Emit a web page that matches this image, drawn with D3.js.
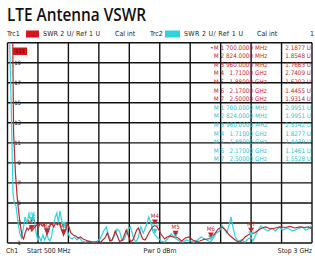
<!DOCTYPE html>
<html>
<head>
<meta charset="utf-8">
<script src="https://cdn.jsdelivr.net/npm/d3@7"></script>
<style>
  body { margin: 0; background: #fff; }
  text { font-family: "DejaVu Sans Condensed", "Liberation Sans", sans-serif; }
</style>
</head>
<body>
<div id="chart"></div>
<script>
// trace 1 (red) - frequency MHz / VSWR
const redFreq = [500, 540, 550, 565, 580, 595, 610, 622, 632, 645, 660, 672, 685, 700, 712, 725, 740, 755, 770, 785, 800, 812, 824, 838, 850, 865, 880, 895, 910, 925, 940, 960, 975, 990, 1005, 1020, 1040, 1060, 1080, 1100, 1120, 1140, 1170, 1200, 1240, 1270, 1300, 1320, 1340, 1360, 1385, 1420, 1445, 1475, 1510, 1530, 1560, 1575, 1610, 1630, 1660, 1690, 1710, 1730, 1760, 1790, 1810, 1835, 1860, 1880, 1900, 1930, 1960, 1990, 2020, 2050, 2080, 2110, 2140, 2170, 2200, 2230, 2260, 2290, 2320, 2350, 2380, 2400, 2420, 2450, 2475, 2500, 2530, 2560, 2590, 2620, 2660, 2700, 2740, 2780, 2820, 2860, 2900, 2940, 2970, 3000];
const redSwr = [40, 25, 12, 8, 5.5, 3.8, 2.4, 1.6, 1.4, 2.0, 2.5, 2.3, 2.6, 2.19, 2.4, 2.6, 2.8, 2.6, 3.0, 2.7, 2.9, 2.3, 1.85, 2.2, 2.8, 2.9, 2.6, 3.0, 2.8, 3.0, 2.5, 1.77, 2.2, 2.9, 2.6, 2.0, 1.8, 1.7, 1.5, 1.6, 1.4, 1.3, 1.15, 1.1, 1.1, 1.15, 1.5, 2.0, 1.2, 1.3, 2.2, 1.15, 1.3, 2.3, 1.15, 1.3, 2.3, 2.5, 1.4, 1.3, 2.0, 2.6, 2.74, 2.6, 1.9, 1.4, 1.6, 1.7, 1.6, 1.62, 1.5, 1.2, 1.5, 1.6, 1.3, 1.15, 1.2, 1.35, 1.4, 1.45, 1.9, 2.4, 2.6, 2.3, 1.8, 1.5, 1.2, 1.1, 1.2, 1.6, 1.8, 1.93, 2.0, 2.3, 2.5, 2.6, 2.4, 2.5, 2.6, 2.55, 2.65, 2.5, 2.6, 2.55, 2.6, 2.4];

// trace 2 (cyan)
const cyanFreq = [500, 530, 545, 555, 570, 585, 600, 615, 630, 645, 660, 675, 690, 700, 710, 722, 735, 748, 762, 775, 790, 805, 815, 824, 835, 848, 860, 875, 890, 905, 918, 930, 945, 960, 975, 990, 1010, 1030, 1050, 1070, 1090, 1110, 1140, 1170, 1200, 1230, 1260, 1290, 1310, 1330, 1350, 1370, 1400, 1420, 1440, 1460, 1490, 1510, 1535, 1555, 1575, 1595, 1615, 1640, 1660, 1680, 1695, 1710, 1735, 1760, 1790, 1820, 1845, 1865, 1880, 1910, 1940, 1970, 2000, 2030, 2060, 2090, 2120, 2150, 2170, 2190, 2215, 2240, 2260, 2280, 2300, 2320, 2335, 2350, 2370, 2395, 2420, 2450, 2475, 2500, 2515, 2530, 2555, 2580, 2610, 2640, 2670, 2700, 2730, 2760, 2800, 2840, 2880, 2920, 2950, 2980, 3000];
const cyanSwr = [30, 15, 6, 5, 4.7, 3.2, 2.0, 1.5, 2.5, 3.6, 3.0, 3.8, 3.4, 2.99, 4.0, 3.2, 2.0, 1.3, 1.6, 1.2, 1.8, 1.3, 1.6, 1.99, 1.4, 1.2, 1.6, 2.6, 3.5, 4.0, 3.0, 4.2, 3.2, 2.51, 2.9, 2.2, 1.6, 1.4, 1.6, 1.3, 1.5, 1.2, 1.1, 1.2, 1.1, 1.15, 1.4, 2.2, 2.6, 1.8, 1.2, 1.5, 2.4, 2.2, 1.2, 1.4, 2.4, 2.6, 1.5, 1.1, 1.6, 2.6, 2.0, 2.8, 3.6, 2.9, 2.1, 1.83, 1.5, 1.2, 1.1, 1.5, 1.9, 1.6, 1.44, 1.2, 1.1, 1.3, 1.2, 1.1, 1.3, 1.6, 1.4, 1.2, 1.15, 1.5, 2.0, 2.2, 2.8, 2.4, 2.0, 2.8, 3.6, 2.6, 1.6, 1.2, 1.3, 1.1, 1.4, 1.55, 1.2, 1.6, 2.2, 2.7, 2.4, 2.2, 2.5, 2.2, 2.6, 2.3, 2.5, 2.2, 2.4, 2.6, 2.3, 2.5, 2.8];

// markers
const markerNames = ["M1", "M2", "M3", "M4", "M5", "M6", "M7"];
const markerFreq = [700, 824, 960, 1710, 1880, 2170, 2500];
const redMarkerSwr = [2.1877, 1.8548, 1.7663, 2.7409, 1.6202, 1.4455, 1.9314];
const cyanMarkerSwr = [2.9951, 1.9951, 2.5142, 1.8277, 1.4439, 1.1461, 1.5528];

const yTicks = [1, 3, 5, 7, 9, 11, 13, 15, 17, 19];

const width = 315, height = 259;
const plot = { left: 7.5, top: 42.7, right: 312, bottom: 243 };
const red = "#c0262c", redFill = "#d9141c", cyan = "#2fd3dc";

const svg = d3.select("#chart").append("svg")
    .attr("width", width)
    .attr("height", height);

const xScale = d3.scaleLinear().domain([500, 3000]).range([plot.left, plot.right]);
const yScale = d3.scaleLinear().domain([1, 21]).range([plot.bottom, plot.top]);

// title
svg.append("text")
    .attr("x", 7).attr("y", 21)
    .attr("textLength", 139).attr("lengthAdjust", "spacingAndGlyphs")
    .style("font-family", "'Open Sans', sans-serif")
    .style("font-weight", 600)
    .style("font-size", "18px")
    .attr("fill", "#111")
    .text("LTE Antenna VSWR");

// header line
const hdr = svg.append("g").style("font-size", "7px").attr("fill", "#222");
hdr.append("text").attr("x", 7).attr("y", 36).text("Trc1");
hdr.append("rect").attr("x", 26).attr("y", 30.5).attr("width", 13).attr("height", 7).attr("fill", redFill);
hdr.append("text").attr("x", 43).attr("y", 36).attr("textLength", 57).text("SWR  2 U/  Ref 1 U");
hdr.append("text").attr("x", 115).attr("y", 36).text("Cal int");
hdr.append("text").attr("x", 150).attr("y", 36).text("Trc2");
hdr.append("rect").attr("x", 165).attr("y", 30.5).attr("width", 15).attr("height", 7).attr("fill", cyan);
hdr.append("text").attr("x", 184).attr("y", 36).attr("textLength", 59).text("SWR  2 U/  Ref 1 U");
hdr.append("text").attr("x", 257).attr("y", 36).text("Cal int");
hdr.append("text").attr("x", 310).attr("y", 36).text("1");

// grid
const grid = svg.append("g").attr("stroke", "#111").attr("stroke-width", 1.4);
d3.range(500, 3001, 250).forEach(f => {
    grid.append("line")
        .attr("x1", xScale(f)).attr("x2", xScale(f))
        .attr("y1", plot.top).attr("y2", plot.bottom);
});
d3.range(1, 22, 2).forEach(v => {
    grid.append("line")
        .attr("x1", plot.left).attr("x2", plot.right)
        .attr("y1", yScale(v)).attr("y2", yScale(v));
});

// y labels
svg.append("g").style("font-size", "6px").attr("fill", "#222")
    .selectAll("text").data(yTicks).enter().append("text")
    .attr("x", 21).attr("y", d => yScale(d))
    .attr("dy", "0.35em")
    .attr("text-anchor", "end")
    .text(d => d);

// trace label box
svg.append("rect").attr("x", 13).attr("y", 47.5).attr("width", 14).attr("height", 7.5).attr("fill", redFill);
svg.append("text").attr("x", 20).attr("y", 53.3).attr("text-anchor", "middle")
    .style("font-size", "5.5px").attr("fill", "#5a0000").text("S11");

// traces
svg.append("clipPath").attr("id", "clip").append("rect")
    .attr("x", plot.left).attr("y", plot.top)
    .attr("width", plot.right - plot.left).attr("height", plot.bottom - plot.top);

const line = d3.line()
    .x(d => xScale(d[0]))
    .y(d => yScale(d[1]));

const traces = svg.append("g").attr("clip-path", "url(#clip)");
traces.append("path")
    .datum(d3.zip(cyanFreq, cyanSwr))
    .attr("d", line).attr("fill", "none")
    .attr("stroke", cyan).attr("stroke-width", 1.2);
traces.append("path")
    .datum(d3.zip(redFreq, redSwr))
    .attr("d", line).attr("fill", "none")
    .attr("stroke", red).attr("stroke-width", 1.2);

// marker symbols on the traces; a cyan label that would sit under the red one is left out
function drawMarkers(vals, col, other) {
    const g = svg.append("g");
    markerFreq.forEach((f, i) => {
        const x = xScale(f), y = yScale(vals[i]) - 1;
        g.append("path")
            .attr("d", `M${x - 3},${y - 5}L${x + 3},${y - 5}L${x},${y}Z`)
            .attr("fill", col);
        if (other && Math.abs(yScale(other[i]) - yScale(vals[i])) < 8) return;
        g.append("text")
            .attr("x", x).attr("y", y - 6.5)
            .attr("text-anchor", "middle")
            .style("font-size", "6px")
            .attr("fill", col)
            .text(markerNames[i]);
    });
}
drawMarkers(cyanMarkerSwr, cyan, redMarkerSwr);
drawMarkers(redMarkerSwr, red, null);

// marker table
const fmtFreq = f => f < 1000 ? f.toFixed(4) : (f / 1000).toFixed(5);
const fmtUnit = f => f < 1000 ? "MHz" : "GHz";
const table = svg.append("g").style("font-size", "6.3px");
const rowH = 8.6;
[[redMarkerSwr, red], [cyanMarkerSwr, "#28c4cc"]].forEach((t, k) => {
    t[0].forEach((v, i) => {
        const y = 49.5 + (k * 7 + i) * rowH;
        const col = t[1];
        table.append("text").attr("x", 224).attr("y", y).attr("text-anchor", "end").attr("fill", col)
            .text((k === 0 && i === 0 ? "•" : "") + "M " + (i + 1));
        table.append("text").attr("x", 253).attr("y", y).attr("text-anchor", "end").attr("fill", col)
            .text(fmtFreq(markerFreq[i]));
        table.append("text").attr("x", 255).attr("y", y).attr("fill", col)
            .text(fmtUnit(markerFreq[i]));
        table.append("text").attr("x", 311).attr("y", y).attr("text-anchor", "end").attr("fill", col)
            .text(d3.format(".4f")(v) + " U");
    });
});

// footer
const ftr = svg.append("g").style("font-size", "6.8px").attr("fill", "#222");
ftr.append("text").attr("x", 6).attr("y", 253).text("Ch1");
ftr.append("text").attr("x", 27).attr("y", 253).text("Start  500 MHz");
ftr.append("text").attr("x", 160).attr("y", 253).attr("text-anchor", "middle").text("Pwr  0 dBm");
ftr.append("text").attr("x", 312).attr("y", 253).attr("text-anchor", "end").text("Stop  3 GHz");
</script>
</body>
</html>
